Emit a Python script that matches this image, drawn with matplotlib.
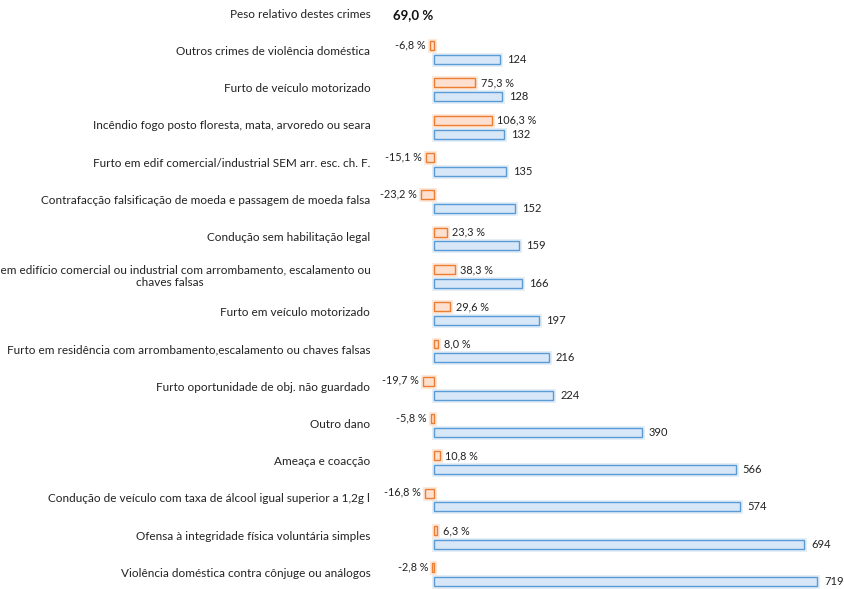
import matplotlib.pyplot as plt
import matplotlib.patheffects as pe
import matplotlib.transforms as mtransforms
import numpy as np

plt.rcParams['font.family'] = ['Lato', 'DejaVu Sans']

crimes = [
    "Outros crimes de violência doméstica",
    "Furto de veículo motorizado",
    "Incêndio fogo posto floresta, mata, arvoredo ou seara",
    "Furto em edif comercial/industrial SEM arr. esc. ch. F.",
    "Contrafacção falsificação de moeda e passagem de moeda falsa",
    "Condução sem habilitação legal",
    "Furto em edifício comercial ou industrial com arrombamento, escalamento ou\nchaves falsas",
    "Furto em veículo motorizado",
    "Furto em residência com arrombamento,escalamento ou chaves falsas",
    "Furto oportunidade de obj. não guardado",
    "Outro dano",
    "Ameaça e coacção",
    "Condução de veículo com taxa de álcool igual superior a 1,2g l",
    "Ofensa à integridade física voluntária simples",
    "Violência doméstica contra cônjuge ou análogos",
]
totals = [124, 128, 132, 135, 152, 159, 166, 197, 216, 224, 390, 566, 574, 694, 719]
variacao = [-6.8, 75.3, 106.3, -15.1, -23.2, 23.3, 38.3, 29.6, 8.0, -19.7, -5.8, 10.8, -16.8, 6.3, -2.8]
peso_label = "Peso relativo destes crimes"
peso_valor = "69,0 %"

W, H = 844, 589
fig = plt.figure(figsize=(W / 100, H / 100), dpi=100)
ax = fig.add_axes([380 / W, 0, 1 - 380 / W, 1])
ax2 = ax.twiny()

y = np.arange(len(crimes))
ax.set_ylim(14.39, -1.405)
ax.set_xlim(-101, 769)
ax2.set_xlim(-99, 752)

blue_fx = [pe.withStroke(linewidth=3.5, foreground='#bdd7ee', alpha=0.45)]
orange_fx = [pe.withStroke(linewidth=3.5, foreground='#f8cbad', alpha=0.45)]

bb = ax.barh(y + 0.19, totals, height=0.24, color='#d8e7f8', edgecolor='#5b9bd5', linewidth=1)
for b in bb:
    b.set_path_effects(blue_fx)
ob = ax2.barh(y - 0.18, variacao, height=0.24, color='#fde0cf', edgecolor='#ed7d31', linewidth=1)
for b in ob:
    b.set_path_effects(orange_fx)

for yi, v in zip(y, totals):
    ax.annotate(str(v), (v, yi + 0.19), xytext=(5, 0), textcoords='offset points',
                va='center', ha='left', fontsize=8, color='#222222')
for yi, v in zip(y, variacao):
    txt = f"{v:.1f}".replace('.', ',') + " %"
    if v >= 0:
        ax2.annotate(txt, (v, yi - 0.18), xytext=(4, 0), textcoords='offset points',
                     va='center', ha='left', fontsize=7.8, color='#222222')
    else:
        ax2.annotate(txt, (v, yi - 0.18), xytext=(-3, 0.8), textcoords='offset points',
                     va='center', ha='right', fontsize=7.8, color='#222222')

ax.set_yticks(list(y) + [-1])
ax.set_yticklabels(crimes + [peso_label], fontsize=8.5, multialignment='center', color='#222222')
ax.tick_params(axis='y', length=0, pad=7)
shift = mtransforms.ScaledTranslation(0, 2 / 100, fig.dpi_scale_trans)
for lab in ax.get_yticklabels():
    lab.set_transform(lab.get_transform() + shift)
ax.set_xticks([])
ax2.set_xticks([])
for a in (ax, ax2):
    for s in a.spines.values():
        s.set_visible(False)

ax.text(-77, -1, peso_valor, ha='left', va='center', fontsize=9.5, fontweight='bold', color='#111111')

fig.savefig('out.png', dpi=100)
